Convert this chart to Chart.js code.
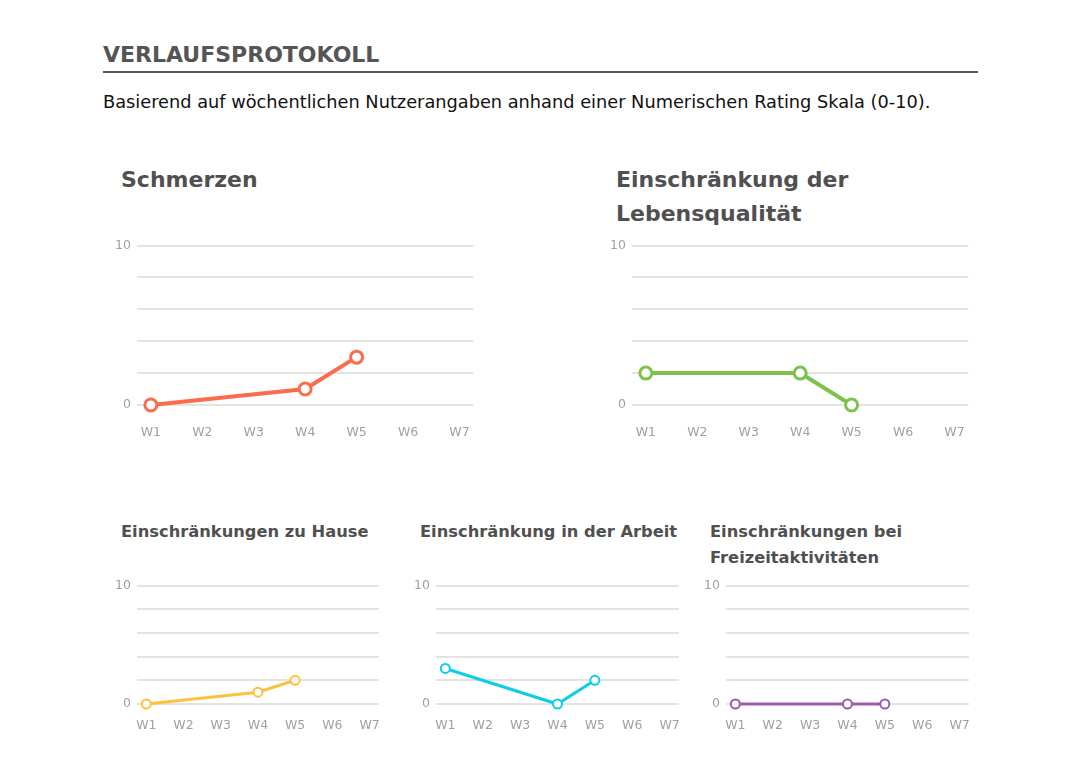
<!DOCTYPE html>
<html>
<head>
<meta charset="utf-8">
<script src="https://cdn.jsdelivr.net/npm/chart.js"></script>
<style>
  body { margin: 0; background: #fff; font-family: "DejaVu Sans", sans-serif; }
  #page { position: relative; width: 1080px; height: 759px; }
  h1 { position: absolute; left: 103px; top: 42px; margin: 0; font-size: 22px; font-weight: bold; color: #555; }
  .rule { position: absolute; left: 103px; top: 71px; width: 875px; height: 2px; background: #555; }
  .sub { position: absolute; left: 103px; top: 92px; margin: 0; font-size: 17.75px; color: #111; }
  .title { position: absolute; margin: 0; font-weight: bold; color: #505050; }
  .big { font-size: 22px; line-height: 34px; }
  .small { font-size: 16.3px; line-height: 26px; }
  .box { position: absolute; }
</style>
</head>
<body>
<div id="page">
  <h1>VERLAUFSPROTOKOLL</h1>
  <div class="rule"></div>
  <p class="sub">Basierend auf wöchentlichen Nutzerangaben anhand einer Numerischen Rating Skala (0-10).</p>

  <div class="title big" style="left:121px; top:163px;">Schmerzen</div>
  <div class="title big" style="left:616px; top:163px;">Einschränkung der<br>Lebensqualität</div>
  <div class="title small" style="left:121px; top:519px;">Einschränkungen zu Hause</div>
  <div class="title small" style="left:420px; top:519px;">Einschränkung in der Arbeit</div>
  <div class="title small" style="left:710px; top:519px;">Einschränkungen bei<br>Freizeitaktivitäten</div>

  <div class="box" style="left:100px; top:232px; width:390px; height:228px;"><canvas id="c1"></canvas></div>
  <div class="box" style="left:595px; top:232px; width:390px; height:228px;"><canvas id="c2"></canvas></div>
  <div class="box" style="left:100px; top:572px; width:294px; height:175px;"><canvas id="c3"></canvas></div>
  <div class="box" style="left:399px; top:572px; width:295px; height:175px;"><canvas id="c4"></canvas></div>
  <div class="box" style="left:689px; top:572px; width:295px; height:175px;"><canvas id="c5"></canvas></div>
</div>
<script>
const weeks = ["W1", "W2", "W3", "W4", "W5", "W6", "W7"];
const yTicksShown = [0, 10];

const schmerzen = [0, null, null, 1, 3, null, null];
const lebensqualitaet = [2, null, null, 2, 0, null, null];
const zuHause = [0, null, null, 1, 2, null, null];
const arbeit = [3, null, null, 0, 2, null, null];
const freizeit = [0, null, null, 0, 0, null, null];

function toPoints(values) {
  const pts = [];
  values.forEach((v, i) => { if (v !== null) pts.push({ x: i + 1, y: v }); });
  return pts;
}

function makeChart(id, values, color, big) {
  const ctx = document.getElementById(id).getContext("2d");
  return new Chart(ctx, {
    type: "line",
    data: {
      datasets: [{
        data: toPoints(values),
        borderColor: color,
        backgroundColor: "#fff",
        borderWidth: big ? 4 : 3,
        pointRadius: big ? 6 : 4.5,
        pointBorderWidth: big ? 3 : 2,
        pointBackgroundColor: "#fff",
        pointBorderColor: color,
        tension: 0,
        spanGaps: true,
        clip: false
      }]
    },
    options: {
      responsive: true,
      maintainAspectRatio: false,
      animation: false,
      layout: { padding: 0 },
      plugins: { legend: { display: false }, tooltip: { enabled: false } },
      scales: {
        x: {
          type: "linear",
          min: big ? 0.73 : 0.75,
          max: big ? 7.27 : 7.25,
          afterBuildTicks: s => { s.ticks = weeks.map((w, i) => ({ value: i + 1 })); },
          grid: { display: false, drawTicks: false },
          border: { display: false },
          ticks: {
            padding: big ? 20 : 14,
            color: "#a0a0a0",
            font: { family: "DejaVu Sans", size: 12.5 },
            maxRotation: 0,
            autoSkip: false,
            callback: v => weeks[v - 1] || ""
          }
        },
        y: {
          min: 0,
          max: 10,
          afterFit: s => { s.width = 37; },
          grid: { color: "#e3e3e3", lineWidth: 2, drawTicks: false },
          border: { display: false },
          ticks: {
            stepSize: 2,
            padding: 6,
            color: "#a0a0a0",
            font: { family: "DejaVu Sans", size: 12.5 },
            callback: v => yTicksShown.includes(v) ? String(v) : ""
          }
        }
      }
    }
  });
}

makeChart("c1", schmerzen, "#fb6c4d", true);
makeChart("c2", lebensqualitaet, "#7dc24b", true);
makeChart("c3", zuHause, "#fdc13e", false);
makeChart("c4", arbeit, "#0fcde6", false);
makeChart("c5", freizeit, "#9b5bb0", false);
</script>
</body>
</html>
